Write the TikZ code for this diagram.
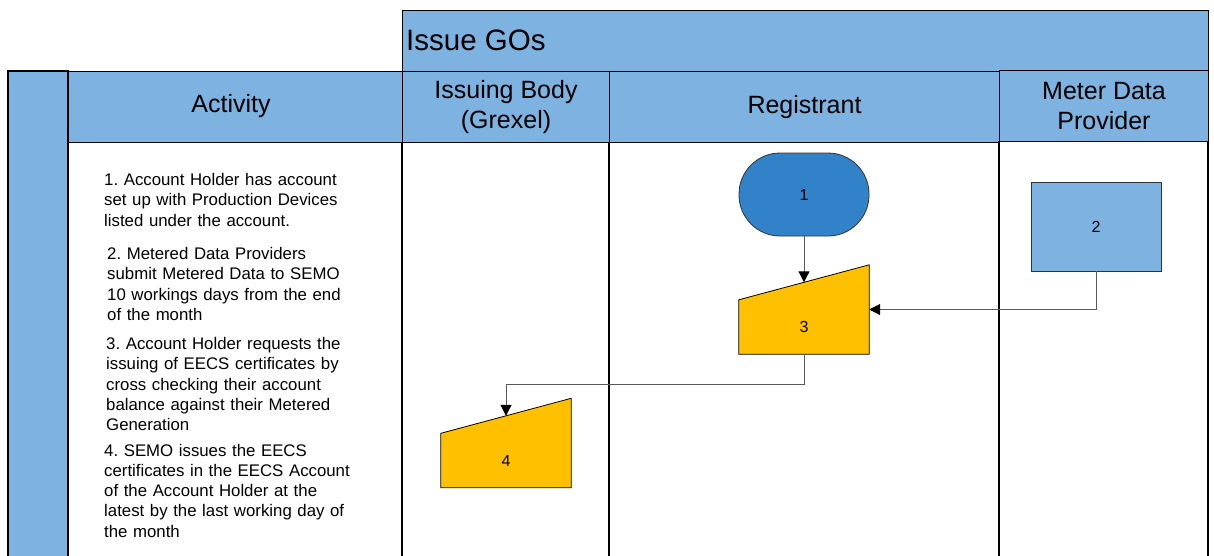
\documentclass[tikz,border=0pt]{standalone}
\usepackage{fontspec}
\setmainfont{Liberation Sans}
\usetikzlibrary{arrows.meta,calc}
\definecolor{hdrblue}{RGB}{126,178,224}
\definecolor{startblue}{RGB}{50,130,202}
\definecolor{procyellow}{RGB}{255,192,0}
\frenchspacing
\tikzset{
  hdr/.style={draw=black, line width=1pt, fill=hdrblue, inner sep=0pt, anchor=north west, align=center, font=\fontsize{25}{30}\selectfont},
  lane/.style={draw=black, line width=1.2pt},
  conn/.style={draw=black!65, line width=1pt, -{Triangle[length=11pt,width=11pt,black]}},
  term/.style={draw=black!80, line width=0.8pt, fill=startblue, rounded corners=41pt, minimum width=130pt, minimum height=83pt, inner sep=0pt, font=\fontsize{16}{19}\selectfont},
  procbox/.style={draw=black!80, line width=0.8pt, fill=hdrblue, minimum width=130pt, minimum height=89pt, inner sep=0pt, font=\fontsize{16}{19}\selectfont},
  mibox/.style={minimum width=130pt, minimum height=89pt, inner sep=0pt},
  mishape/.style={draw=black, line width=0.8pt, fill=procyellow},
  numlbl/.style={inner sep=0pt, font=\fontsize{16}{19}\selectfont},
  acttext/.style={anchor=base west, inner sep=0pt, text width=260pt, align=left, font=\fontsize{16.8}{20.3}\selectfont},
}
\begin{document}
\begin{tikzpicture}[x=1pt,y=-1pt]
\useasboundingbox (0,0) rectangle (1214,555);
% left bar
\filldraw[fill=hdrblue, draw=black, line width=1.2pt] (8,556) -- (8,71) -- (68,71) -- (68,556);
% title
\node[hdr, minimum width=806pt, minimum height=61pt] (goshdr) at (402,10) {};
\node[anchor=west, inner sep=0pt, font=\fontsize{29.5}{32}\selectfont] (goslbl) at (406,40) {Issue GOs};
% column headers
\node[hdr, minimum width=334pt, minimum height=71pt] (acthdr) at (68,71) {};
\node[inner sep=0pt, font=\fontsize{25}{30}\selectfont] (actlbl) at (231,106) {Activity};
\node[hdr, minimum width=207pt, minimum height=71pt] (ibhdr) at (402,71) {Issuing Body\\(Grexel)};
\node[hdr, minimum width=390pt, minimum height=71pt] (reghdr) at (609,71) {Registrant};
\node[hdr, minimum width=209pt, minimum height=71pt] (mdphdr) at (999,70) {Meter Data\\Provider};
% lane lines
\draw[lane] (68,142) -- (68,556);
\draw[lane] (402,142) -- (402,556);
\draw[lane] (609,142) -- (609,556);
\draw[lane] (999,141) -- (999,556);
\draw[lane] (1208,141) -- (1208,556);
% activity text
\node[acttext] (t1) at (104,185.5) {1. Account Holder has account\\set up with Production Devices\\listed under the account.};
\node[acttext] (t2) at (107,259.5) {2. Metered Data Providers\\submit Metered Data to SEMO\\10 workings days from the end\\of the month};
\node[acttext] (t3) at (106,349.5) {3. Account Holder requests the\\issuing of EECS certificates by\\cross checking their account\\balance against their Metered\\Generation};
\node[acttext] (t4) at (104,456) {4. SEMO issues the EECS\\certificates in the EECS Account\\of the Account Holder at the\\latest by the last working day of\\the month};
% flow nodes
\node[term] (n1) at (804,194.5) {1};
\node[procbox] (n2) at (1096,226.5) {2};
\node[mibox] (n3) at (804,309.5) {};
\draw[mishape] (n3.south west) -- (n3.south east) -- (n3.north east) -- ($(n3.north west)+(0,35)$) -- cycle;
\node[numlbl] (n3lbl) at (804,327) {3};
\node[mibox] (n4) at (506,443) {};
\draw[mishape] (n4.south west) -- (n4.south east) -- (n4.north east) -- ($(n4.north west)+(0,35)$) -- cycle;
\node[numlbl] (n4lbl) at (506,461) {4};
% connectors
\draw[conn] (n1.south) -- ($(n3.north)+(0,17.5)$);
\draw[conn] (n2.south) |- (n3.east);
\draw[conn] (n3.south) -- ++(0,30) -| ($(n4.north)+(0,17.5)$);
\end{tikzpicture}
\end{document}
